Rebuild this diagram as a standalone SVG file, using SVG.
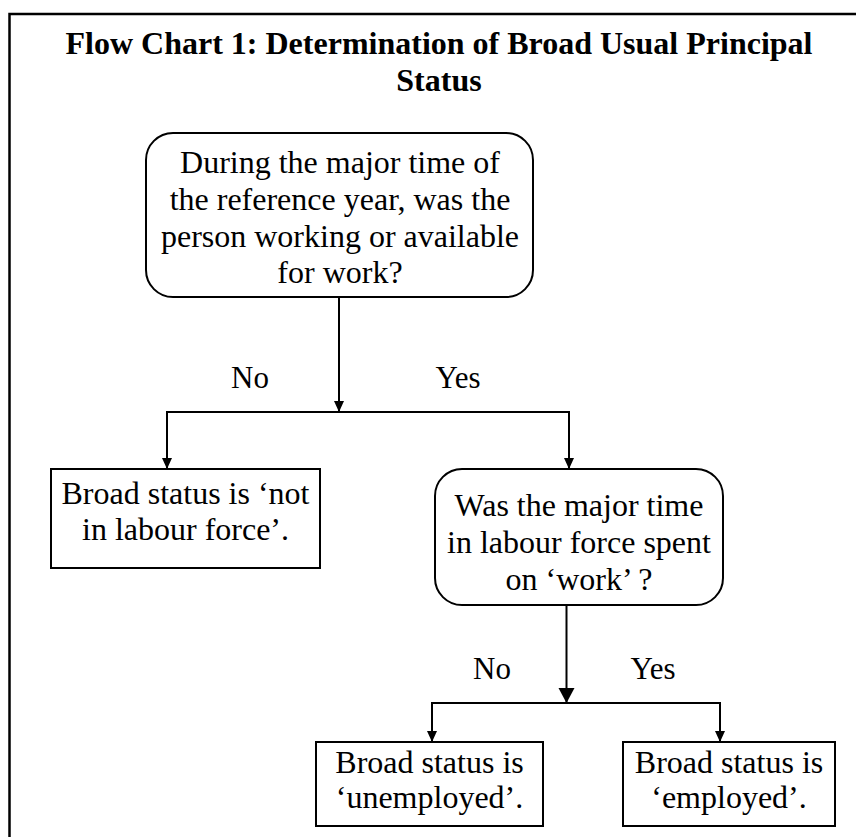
<svg xmlns="http://www.w3.org/2000/svg" width="856" height="837" viewBox="0 0 856 837">
<style>
  text { font-family: "Liberation Serif", "Times New Roman", serif; fill: #000; text-anchor: middle; }
  .title { font-size: 32px; font-weight: bold; }
  .t32 { font-size: 32px; }
  .lbl { font-size: 31px; }
  .box { fill: #fff; stroke: #000; stroke-width: 2; }
  .edge { fill: none; stroke: #000; stroke-width: 2; }
</style>
<defs>
  <marker id="arr" markerUnits="userSpaceOnUse" markerWidth="12" markerHeight="12" refX="11" refY="6" orient="auto">
    <path d="M0,1 L11,6 L0,11 z" fill="#000"/>
  </marker>
  <marker id="arrBig" markerUnits="userSpaceOnUse" markerWidth="16" markerHeight="18" refX="15" refY="9" orient="auto">
    <path d="M0,1 L15,9 L0,17 z" fill="#000"/>
  </marker>
</defs>
<rect width="856" height="837" fill="#fff"/>
<path d="M9.5,837 V14 H856" fill="none" stroke="#000" stroke-width="2.5"/>
<g id="title">
  <text class="title" x="439" y="54">Flow Chart 1: Determination of Broad Usual Principal</text>
  <text class="title" x="439" y="91">Status</text>
</g>
<g id="connectors">
  <line class="edge" x1="339" y1="297" x2="339" y2="412" marker-end="url(#arr)"/>
  <path class="edge" d="M167,469 V412 H569 V469" />
  <line class="edge" x1="167" y1="440" x2="167" y2="469" marker-end="url(#arr)"/>
  <line class="edge" x1="569" y1="440" x2="569" y2="469" marker-end="url(#arr)"/>
  <text class="lbl" x="250" y="388">No</text>
  <text class="lbl" x="458" y="388">Yes</text>
  <line class="edge" x1="566.5" y1="605" x2="566.5" y2="703" marker-end="url(#arrBig)"/>
  <path class="edge" d="M432,742 V703 H720 V742" />
  <line class="edge" x1="432" y1="720" x2="432" y2="742" marker-end="url(#arr)"/>
  <line class="edge" x1="720" y1="720" x2="720" y2="742" marker-end="url(#arr)"/>
  <text class="lbl" x="492" y="679">No</text>
  <text class="lbl" x="653" y="679">Yes</text>
</g>
<g id="q1">
  <rect class="box" x="146" y="133" width="387" height="164" rx="27" ry="27"/>
  <text class="t32" x="340" y="173">During the major time of</text>
  <text class="t32" x="340" y="210">the reference year, was the</text>
  <text class="t32" x="340" y="247">person working or available</text>
  <text class="t32" x="340" y="283">for work?</text>
</g>
<g id="notlf">
  <rect class="box" x="51" y="469" width="269" height="99"/>
  <text class="t32" x="185.5" y="504">Broad status is ‘not</text>
  <text class="t32" x="185.5" y="540">in labour force’.</text>
</g>
<g id="q2">
  <rect class="box" x="435" y="469" width="288" height="136" rx="27" ry="27"/>
  <text class="t32" x="579" y="516">Was the major time</text>
  <text class="t32" x="579" y="553">in labour force spent</text>
  <text class="t32" x="579" y="590">on ‘work’ ?</text>
</g>
<g id="unemp">
  <rect class="box" x="316" y="742" width="227" height="84"/>
  <text class="t32" x="429.5" y="773">Broad status is</text>
  <text class="t32" x="429.5" y="808">‘unemployed’.</text>
</g>
<g id="emp">
  <rect class="box" x="623" y="742" width="212" height="84"/>
  <text class="t32" x="729" y="773">Broad status is</text>
  <text class="t32" x="729" y="808">‘employed’.</text>
</g>
</svg>
